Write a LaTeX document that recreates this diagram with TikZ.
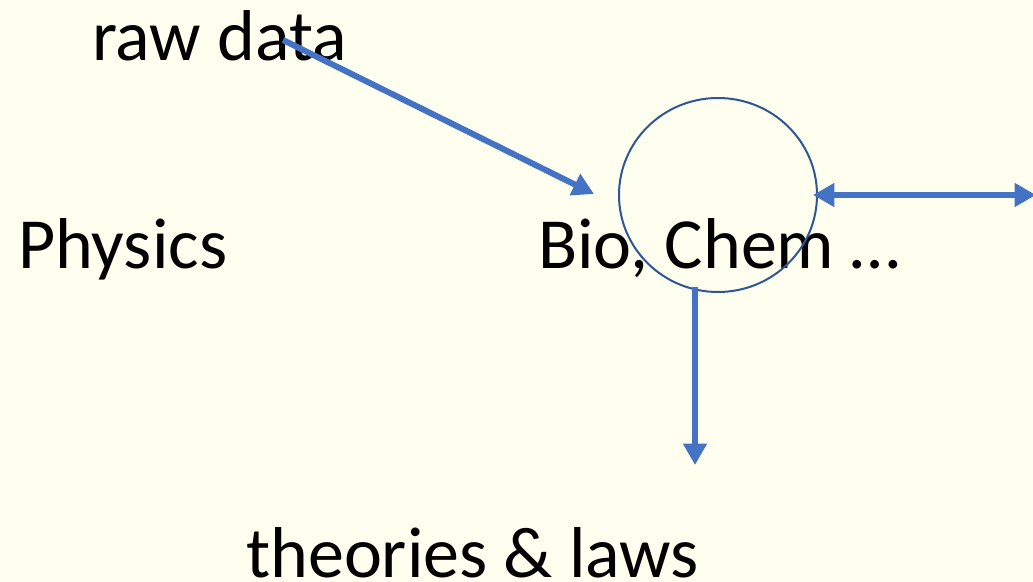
\documentclass[tikz,border=0pt]{standalone}
\usepackage{fontspec}
\setmainfont{Carlito}
\usetikzlibrary{arrows.meta, shapes.geometric}
\definecolor{paper}{HTML}{FFFFF0}
\definecolor{flow}{HTML}{4472C4}
\definecolor{ring}{HTML}{2F5597}

\begin{document}
\begin{tikzpicture}[x=0.75pt, y=-0.75pt]
                            \tikzset{word/.style={anchor=base west, inner sep=0pt, font=\fontsize{54}{60}\selectfont},
                                     flowline/.style={draw=flow, line width=4.5pt}}
                            \fill[paper] (0, 0) rectangle (1033, 582);
                            \useasboundingbox (0, 0) rectangle (1033, 582);
                            \node[word] (raw) at (92, 60) {raw data};
                            \node[word] (phys) at (18, 268) {Physics};
                            \node[word] (bio) at (538, 268) {Bio, Chem \dots};
                            \node[word] (theo) at (246, 577) {theories \& laws};
                            \node[draw=ring, line width=1.5pt, ellipse, minimum width=148.5pt, minimum height=145.5pt, inner sep=0pt] (circ) at (718, 195) {};
                            \coordinate (rawend) at (283, 40);
                            \coordinate (bioin) at (594, 194);
                            \coordinate (circbot) at (695, 287);
                            \coordinate (theoin) at (695, 465);
                            \coordinate (circin) at (813, 195);
                            \coordinate (outside) at (1036, 195);
                            \draw[flowline, -{Triangle[length=16pt, width=17pt]}] (rawend) -- (bioin);
                            \draw[flowline, -{Triangle[length=16pt, width=17pt]}] (circbot) -- (theoin);
                            \draw[flowline, {Triangle[length=16pt, width=17pt]}-{Triangle[length=16pt, width=17pt]}] (circin) -- (outside);
                        \end{tikzpicture}
\end{document}
